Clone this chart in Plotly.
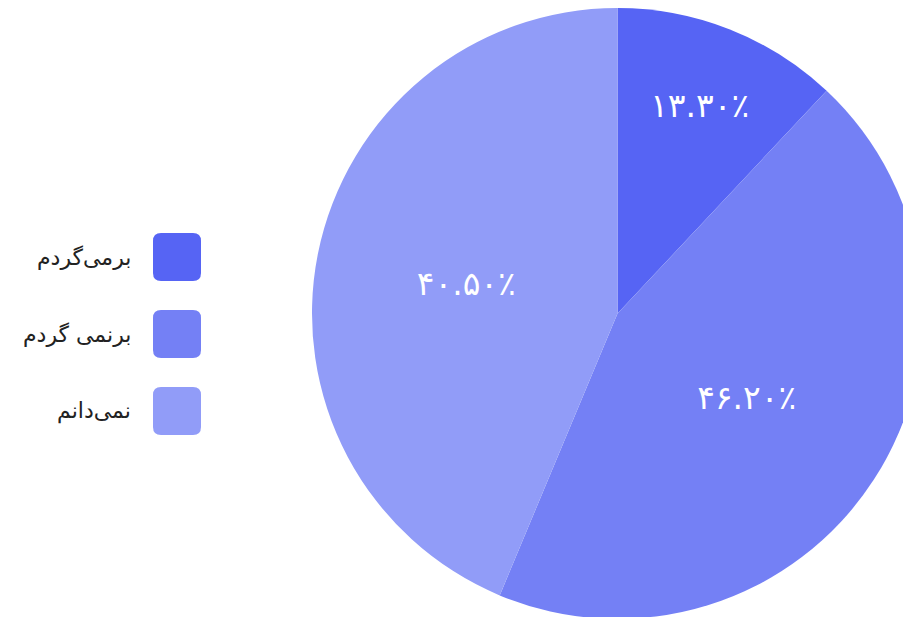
import plotly.graph_objects as go

# data
labels = ["برمی‌گردم", "برنمی گردم", "نمی‌دانم"]
slice_values = [12.0, 44.3, 43.7]          # slice sizes as drawn
label_values = [13.3, 46.2, 40.5]          # percentages printed on the slices
colors = ["#5664F4", "#7480F5", "#919CF8"]

W, H = 925, 627


def fa_digits(s):
    return s.translate(str.maketrans("0123456789", "۰۱۲۳۴۵۶۷۸۹"))


pie_text = [fa_digits(f"{v:.2f}") + "٪" for v in label_values]

fig = go.Figure()
fig.add_trace(go.Pie(
    labels=labels,
    values=slice_values,
    text=pie_text,
    textinfo="text",
    textposition="inside",
    insidetextorientation="horizontal",
    textfont=dict(family="DejaVu Sans", size=33, color="white"),
    marker=dict(colors=colors, line=dict(width=0)),
    sort=False,
    direction="clockwise",
    rotation=0,
    domain=dict(x=[312 / W, 923 / W], y=[0, 1]),
    showlegend=False,
    hovertemplate="%{label}: %{text}<extra></extra>",
))


# hand-drawn legend: rounded swatch on the right, text on its left (RTL)
def px_x(x):
    return x / W


def px_y(y):
    return 1 - y / H


def rounded_rect(x0, y0, x1, y1, r):
    return (f"M {px_x(x0 + r)} {px_y(y0)} L {px_x(x1 - r)} {px_y(y0)} "
            f"Q {px_x(x1)} {px_y(y0)} {px_x(x1)} {px_y(y0 + r)} "
            f"L {px_x(x1)} {px_y(y1 - r)} "
            f"Q {px_x(x1)} {px_y(y1)} {px_x(x1 - r)} {px_y(y1)} "
            f"L {px_x(x0 + r)} {px_y(y1)} "
            f"Q {px_x(x0)} {px_y(y1)} {px_x(x0)} {px_y(y1 - r)} "
            f"L {px_x(x0)} {px_y(y0 + r)} "
            f"Q {px_x(x0)} {px_y(y0)} {px_x(x0 + r)} {px_y(y0)} Z")


for i, (lab, col) in enumerate(zip(labels, colors)):
    top = 233 + i * 77
    fig.add_shape(type="path", xref="paper", yref="paper",
                  path=rounded_rect(153, top, 201, top + 48, 8),
                  fillcolor=col, line=dict(width=0))
    fig.add_annotation(x=px_x(133), y=px_y(top + 24), xref="paper", yref="paper",
                       text=lab, showarrow=False, xanchor="right", yanchor="middle",
                       font=dict(family="DejaVu Sans", size=22, color="#222222"))

fig.update_layout(
    width=W, height=H,
    margin=dict(l=0, r=0, t=0, b=0),
    paper_bgcolor="white",
    plot_bgcolor="white",
)

# pie runs off the right and bottom edges in the reference: drop page margins and clip
fig.write_html(
    "out.html",
    config={"displayModeBar": False},
    post_script="document.body.style.margin='0';"
                "document.body.style.overflow='hidden';"
                "document.documentElement.style.overflow='hidden';",
)
